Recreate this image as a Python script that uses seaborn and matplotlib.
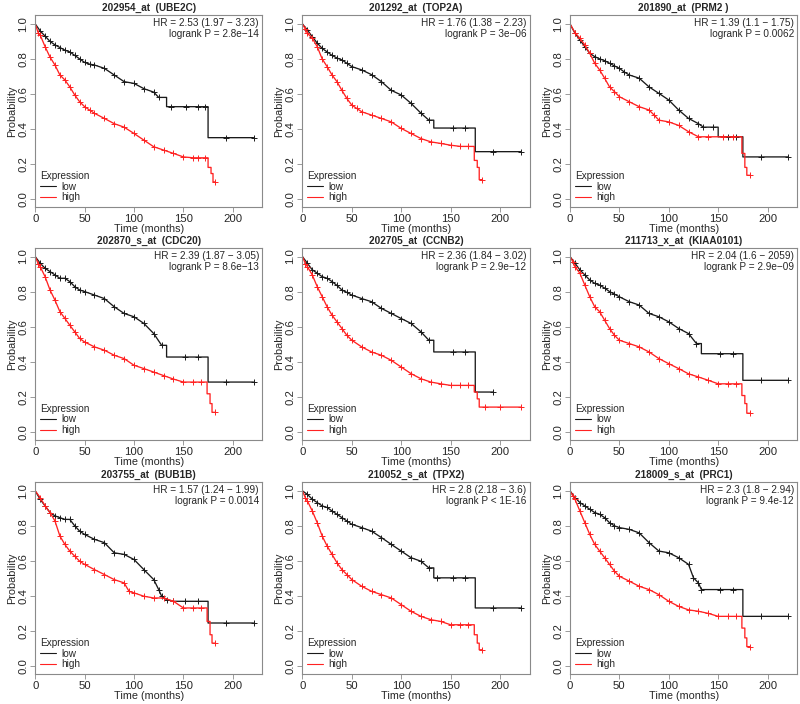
"""
Kaplan-Meier survival panels (3x3) for nine probes, low vs high expression.
Values read off the reference picture.
"""

import matplotlib
matplotlib.use('Agg')
import matplotlib.pyplot as plt
from matplotlib.lines import Line2D
import seaborn as sns

# ---- panel texts ----
titles = ["202954_at  (UBE2C)", "201292_at  (TOP2A)", "201890_at  (PRM2 )",
          "202870_s_at  (CDC20)", "202705_at  (CCNB2)", "211713_x_at  (KIAA0101)",
          "203755_at  (BUB1B)", "210052_s_at  (TPX2)", "218009_s_at  (PRC1)"]
hr_texts = ["HR = 2.53 (1.97 \u2212 3.23)", "HR = 1.76 (1.38 \u2212 2.23)", "HR = 1.39 (1.1 \u2212 1.75)",
            "HR = 2.39 (1.87 \u2212 3.05)", "HR = 2.36 (1.84 \u2212 3.02)", "HR = 2.04 (1.6 \u2212 2059)",
            "HR = 1.57 (1.24 \u2212 1.99)", "HR = 2.8 (2.18 \u2212 3.6)", "HR = 2.3 (1.8 \u2212 2.94)"]
p_texts = ["logrank P = 2.8e\u221214", "logrank P = 3e\u221206", "logrank P = 0.0062",
           "logrank P = 8.6e\u221213", "logrank P = 2.9e\u221212", "logrank P = 2.9e\u221209",
           "logrank P = 0.0014", "logrank P < 1E-16", "logrank P = 9.4e-12"]

# ---- survival curves (time in months, probability) ----
ube2c_low = [(0, 1.0), (5, 0.96), (10, 0.93), (15, 0.9), (20, 0.88), (25, 0.865), (30, 0.85), (35, 0.84),
             (40, 0.82), (45, 0.8), (50, 0.78), (55, 0.77), (60, 0.765), (70, 0.746), (80, 0.708),
             (90, 0.67), (100, 0.66), (110, 0.63), (120, 0.61), (125, 0.58), (133, 0.58), (133, 0.527),
             (137, 0.527), (153, 0.527), (165, 0.527), (172, 0.527), (175, 0.527), (175, 0.35),
             (193, 0.35), (221, 0.35)]
ube2c_high = [(0, 1.0), (3, 0.95), (5, 0.937), (10, 0.87), (15, 0.81), (20, 0.765), (25, 0.708), (30, 0.68),
              (35, 0.64), (40, 0.594), (45, 0.555), (50, 0.527), (55, 0.508), (60, 0.489), (70, 0.46),
              (80, 0.43), (90, 0.41), (100, 0.374), (110, 0.336), (120, 0.298), (130, 0.279), (140, 0.26),
              (150, 0.24), (160, 0.235), (165, 0.235), (172, 0.235), (175, 0.235), (175, 0.18), (178, 0.18),
              (178, 0.145), (180, 0.145), (180, 0.097), (182, 0.097)]

top2a_low = [(0, 1.0), (5, 0.965), (10, 0.927), (15, 0.89), (20, 0.86), (25, 0.84), (30, 0.82), (35, 0.805),
             (40, 0.794), (45, 0.775), (50, 0.756), (60, 0.737), (70, 0.71), (80, 0.67), (90, 0.62),
             (100, 0.594), (110, 0.546), (120, 0.49), (128, 0.45), (133, 0.45), (133, 0.405), (152, 0.405),
             (165, 0.405), (175, 0.405), (175, 0.27), (193, 0.27), (221, 0.27)]
top2a_high = [(0, 1.0), (3, 0.97), (5, 0.947), (10, 0.918), (15, 0.87), (20, 0.8), (25, 0.756), (30, 0.708),
              (35, 0.67), (40, 0.62), (45, 0.574), (50, 0.536), (55, 0.517), (60, 0.498), (70, 0.479),
              (80, 0.46), (90, 0.44), (100, 0.403), (110, 0.374), (120, 0.345), (130, 0.326), (140, 0.317),
              (150, 0.307), (160, 0.3), (168, 0.3), (174, 0.3), (174, 0.22), (177, 0.22), (177, 0.18),
              (179, 0.18), (179, 0.11), (182, 0.11)]

prm2_low = [(0, 1.0), (5, 0.947), (10, 0.908), (15, 0.87), (20, 0.832), (25, 0.813), (30, 0.8), (35, 0.79),
            (40, 0.775), (45, 0.76), (50, 0.746), (55, 0.725), (60, 0.708), (70, 0.69), (80, 0.64),
            (90, 0.603), (100, 0.565), (110, 0.508), (120, 0.46), (130, 0.43), (135, 0.41), (145, 0.41),
            (150, 0.41), (150, 0.355), (160, 0.355), (168, 0.355), (175, 0.355), (175, 0.24), (193, 0.24),
            (221, 0.24)]
prm2_high = [(0, 1.0), (5, 0.95), (10, 0.918), (15, 0.88), (20, 0.832), (25, 0.775), (30, 0.737), (35, 0.69),
             (40, 0.64), (45, 0.613), (50, 0.584), (60, 0.555), (70, 0.527), (80, 0.508), (85, 0.48),
             (90, 0.45), (100, 0.44), (110, 0.42), (120, 0.384), (130, 0.355), (140, 0.355), (155, 0.355),
             (165, 0.355), (174, 0.355), (174, 0.26), (177, 0.26), (177, 0.18), (179, 0.18), (179, 0.135),
             (182, 0.135)]

cdc20_low = [(0, 1.0), (5, 0.962), (10, 0.933), (15, 0.914), (20, 0.895), (25, 0.876), (30, 0.876),
             (35, 0.857), (40, 0.828), (45, 0.809), (50, 0.8), (60, 0.78), (70, 0.76), (80, 0.713),
             (90, 0.675), (100, 0.656), (110, 0.618), (120, 0.56), (128, 0.493), (133, 0.493), (133, 0.426),
             (152, 0.426), (165, 0.426), (175, 0.426), (175, 0.283), (193, 0.283), (221, 0.283)]
cdc20_high = [(0, 1.0), (3, 0.96), (5, 0.943), (10, 0.885), (15, 0.809), (20, 0.751), (25, 0.685),
              (30, 0.647), (35, 0.608), (40, 0.57), (45, 0.532), (50, 0.512), (60, 0.484), (70, 0.465),
              (80, 0.436), (90, 0.417), (100, 0.379), (110, 0.36), (120, 0.34), (130, 0.32), (140, 0.3),
              (150, 0.283), (160, 0.283), (168, 0.283), (174, 0.283), (174, 0.216), (177, 0.216),
              (177, 0.16), (179, 0.16), (179, 0.11), (182, 0.11)]

ccnb2_low = [(0, 1.0), (5, 0.962), (10, 0.924), (15, 0.905), (20, 0.885), (25, 0.876), (30, 0.857),
             (35, 0.835), (40, 0.809), (45, 0.795), (50, 0.78), (60, 0.76), (70, 0.742), (80, 0.704),
             (90, 0.675), (100, 0.646), (110, 0.618), (120, 0.57), (128, 0.522), (133, 0.522), (133, 0.455),
             (152, 0.455), (165, 0.455), (175, 0.455), (175, 0.226), (193, 0.226)]
ccnb2_high = [(0, 1.0), (3, 0.96), (5, 0.943), (10, 0.895), (15, 0.828), (20, 0.771), (25, 0.713),
              (30, 0.665), (35, 0.627), (40, 0.589), (45, 0.55), (50, 0.522), (60, 0.484), (70, 0.455),
              (80, 0.436), (90, 0.407), (100, 0.369), (110, 0.331), (120, 0.302), (130, 0.283), (140, 0.273),
              (150, 0.264), (160, 0.264), (168, 0.264), (174, 0.264), (174, 0.226), (177, 0.226),
              (177, 0.187), (179, 0.187), (179, 0.14), (185, 0.14), (200, 0.14), (221, 0.14)]

kiaa_low = [(0, 1.0), (5, 0.962), (10, 0.924), (15, 0.895), (20, 0.866), (25, 0.847), (30, 0.837),
            (35, 0.82), (40, 0.8), (45, 0.785), (50, 0.77), (60, 0.742), (70, 0.723), (80, 0.675),
            (90, 0.656), (100, 0.627), (110, 0.589), (120, 0.56), (128, 0.503), (133, 0.503), (133, 0.445),
            (152, 0.445), (165, 0.445), (175, 0.445), (175, 0.293), (193, 0.293), (221, 0.293)]
kiaa_high = [(0, 1.0), (3, 0.97), (5, 0.943), (10, 0.905), (15, 0.837), (20, 0.77), (25, 0.713),
             (30, 0.685), (35, 0.637), (40, 0.589), (45, 0.55), (50, 0.522), (60, 0.503), (70, 0.484),
             (80, 0.455), (90, 0.417), (100, 0.388), (110, 0.36), (120, 0.33), (130, 0.312), (140, 0.293),
             (150, 0.273), (160, 0.273), (168, 0.273), (174, 0.273), (174, 0.206), (177, 0.206),
             (177, 0.16), (179, 0.16), (179, 0.105), (182, 0.105)]

bub1b_low = [(0, 1.0), (5, 0.952), (10, 0.914), (15, 0.876), (20, 0.857), (25, 0.847), (30, 0.837),
             (35, 0.837), (40, 0.8), (45, 0.77), (50, 0.751), (60, 0.723), (70, 0.704), (80, 0.646),
             (90, 0.637), (100, 0.608), (110, 0.55), (120, 0.493), (125, 0.436), (128, 0.398), (133, 0.379),
             (140, 0.369), (152, 0.369), (165, 0.369), (175, 0.369), (175, 0.245), (193, 0.245),
             (221, 0.245)]
bub1b_high = [(0, 1.0), (5, 0.962), (10, 0.914), (15, 0.876), (20, 0.828), (25, 0.742), (30, 0.694),
              (35, 0.656), (40, 0.627), (45, 0.598), (50, 0.58), (60, 0.55), (70, 0.522), (80, 0.493),
              (90, 0.474), (95, 0.426), (100, 0.417), (110, 0.398), (120, 0.388), (130, 0.388), (140, 0.369),
              (150, 0.331), (160, 0.331), (168, 0.331), (174, 0.331), (174, 0.254), (177, 0.254),
              (177, 0.178), (179, 0.178), (179, 0.13), (182, 0.13)]

tpx2_low = [(0, 1.0), (5, 0.98), (10, 0.952), (15, 0.933), (20, 0.914), (25, 0.905), (30, 0.885),
            (35, 0.866), (40, 0.847), (45, 0.828), (50, 0.809), (60, 0.79), (70, 0.77), (80, 0.733),
            (90, 0.694), (100, 0.656), (110, 0.618), (120, 0.598), (128, 0.56), (133, 0.56), (133, 0.503),
            (136, 0.503), (152, 0.503), (165, 0.503), (175, 0.503), (175, 0.331), (193, 0.331),
            (221, 0.331)]
tpx2_high = [(0, 1.0), (3, 0.96), (5, 0.943), (10, 0.885), (15, 0.818), (20, 0.742), (25, 0.685),
             (30, 0.637), (35, 0.589), (40, 0.55), (45, 0.522), (50, 0.493), (60, 0.455), (70, 0.426),
             (80, 0.407), (90, 0.388), (100, 0.35), (110, 0.312), (120, 0.283), (130, 0.264), (140, 0.254),
             (150, 0.235), (160, 0.235), (168, 0.235), (174, 0.235), (174, 0.178), (177, 0.178),
             (177, 0.13), (179, 0.13), (179, 0.092), (182, 0.092)]

prc1_low = [(0, 1.0), (5, 0.962), (10, 0.933), (15, 0.914), (20, 0.895), (25, 0.876), (30, 0.866),
            (35, 0.847), (40, 0.818), (45, 0.8), (50, 0.79), (60, 0.78), (70, 0.76), (80, 0.704),
            (90, 0.656), (100, 0.646), (110, 0.618), (120, 0.58), (125, 0.503), (130, 0.474), (133, 0.436),
            (152, 0.436), (165, 0.436), (175, 0.436), (175, 0.283), (193, 0.283), (221, 0.283)]
prc1_high = [(0, 1.0), (3, 0.97), (5, 0.952), (10, 0.885), (15, 0.818), (20, 0.751), (25, 0.694),
             (30, 0.656), (35, 0.618), (40, 0.58), (45, 0.541), (50, 0.512), (60, 0.484), (70, 0.455),
             (80, 0.436), (90, 0.407), (100, 0.369), (110, 0.34), (120, 0.32), (130, 0.312), (140, 0.3),
             (150, 0.283), (160, 0.283), (168, 0.283), (174, 0.283), (174, 0.216), (177, 0.216),
             (177, 0.16), (179, 0.16), (179, 0.11), (182, 0.11)]

low_curves = [ube2c_low, top2a_low, prm2_low, cdc20_low, ccnb2_low, kiaa_low, bub1b_low, tpx2_low, prc1_low]
high_curves = [ube2c_high, top2a_high, prm2_high, cdc20_high, ccnb2_high, kiaa_high, bub1b_high, tpx2_high,
               prc1_high]

LOW_COLOR = "#1a1a1a"
HIGH_COLOR = "#ff2222"
FRAME_COLOR = "#8a8a8a"

sns.set_style("white")
plt.rcParams['font.family'] = ['Liberation Sans', 'DejaVu Sans']
FS = 7.2
TICK_FS = 8.2
LABEL_FS = 7.8

fig = plt.figure(figsize=(8.0, 7.04), dpi=100)

col_left = [0.044, 0.378, 0.7125]
row_bottom = [0.7055, 0.375, 0.0422]
ax_w, ax_h = 0.284, 0.273


def censor_idx(times):
    # markers wherever the point is not part of a vertical drop
    idx = []
    for i in range(1, len(times)):
        prev_same = times[i] == times[i - 1]
        next_same = i + 1 < len(times) and times[i] == times[i + 1]
        if not prev_same and not next_same:
            idx.append(i)
    return idx


for k in range(9):
    r, c = divmod(k, 3)
    ax = fig.add_axes([col_left[c], row_bottom[r], ax_w, ax_h])

    for curve, color in [(low_curves[k], LOW_COLOR), (high_curves[k], HIGH_COLOR)]:
        t = [p[0] for p in curve]
        s = [p[1] for p in curve]
        sns.lineplot(x=t, y=s, ax=ax, color=color, lw=0.95, estimator=None, sort=False,
                     errorbar=None, legend=False, marker='+', markersize=4,
                     markeredgewidth=0.7, markeredgecolor=color, markevery=censor_idx(t))

    ax.set_xlim(0, 230)
    ax.set_ylim(-0.048, 1.05)
    ax.set_xticks([0, 50, 100, 150, 200])
    ax.set_yticks([0.0, 0.2, 0.4, 0.6, 0.8, 1.0])
    ax.set_yticklabels(["0.0", "0.2", "0.4", "0.6", "0.8", "1.0"], rotation=90, va='center')
    ax.tick_params(axis='both', labelsize=TICK_FS, length=3.5, width=0.6, color=FRAME_COLOR, pad=1.5,
                   bottom=True, left=True)
    for sp in ax.spines.values():
        sp.set_color(FRAME_COLOR)
        sp.set_linewidth(0.8)

    ax.set_title(titles[k], fontsize=FS, fontweight='bold', pad=3)
    ax.set_xlabel("Time (months)", fontsize=LABEL_FS, labelpad=0)
    ax.set_ylabel("Probability", fontsize=LABEL_FS, labelpad=1)

    ax.text(0.985, 0.985, hr_texts[k] + "\n" + p_texts[k], transform=ax.transAxes,
            ha='right', va='top', fontsize=FS, linespacing=1.15)

    handles = [Line2D([0], [0], color=LOW_COLOR, lw=0.8), Line2D([0], [0], color=HIGH_COLOR, lw=0.8)]
    leg = ax.legend(handles, ["low", "high"], title="Expression", loc='lower left', frameon=False,
                    fontsize=FS, title_fontsize=FS, handlelength=1.6, handletextpad=0.5,
                    labelspacing=0.05, borderaxespad=0.3, borderpad=0.2, alignment='left')

fig.savefig("out.png", dpi=100)
